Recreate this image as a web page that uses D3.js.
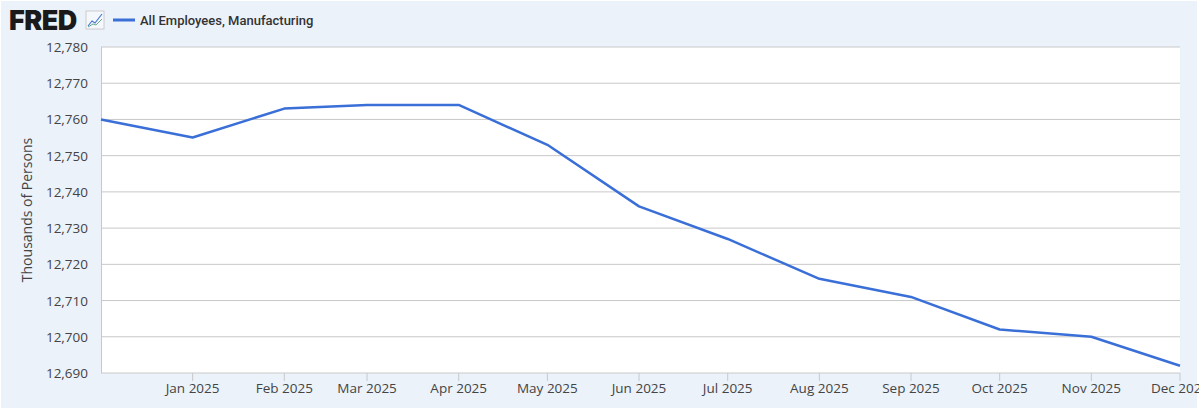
<!DOCTYPE html><html><head><meta charset="utf-8"><script src="https://cdn.jsdelivr.net/npm/d3@7"></script>
<style>body{margin:0;background:#fff}svg{display:block;font-family:"Open Sans",sans-serif}</style></head><body><svg id="c" width="1199" height="409"></svg><script>
const dates=["2024-12-01","2025-01-01","2025-02-01","2025-03-01","2025-04-01","2025-05-01","2025-06-01","2025-07-01","2025-08-01","2025-09-01","2025-10-01","2025-11-01","2025-12-01"];
const values=[12760,12755,12763,12764,12764,12753,12736,12727,12716,12711,12702,12700,12692];
const yTicks=[12690,12700,12710,12720,12730,12740,12750,12760,12770,12780];
const seriesName="All Employees, Manufacturing";
const yLabel="Thousands of Persons";
const svg=d3.select("#c");
svg.append("rect").attr("x",0).attr("y",0).attr("width",1199).attr("height",409).attr("fill","#ffffff");
svg.append("rect").attr("x",1).attr("y",1).attr("width",1196).attr("height",407).attr("fill","#ecf2fa");
const L=101,R=1180,T=47,B=373;
const p=d3.timeParse("%Y-%m-%d");
const x=d3.scaleTime().domain([p(dates[0]),p(dates[dates.length-1])]).range([L,R]);
const y=d3.scaleLinear().domain([12690,12780]).range([B,T]);
svg.append("rect").attr("x",L).attr("y",T).attr("width",R-L).attr("height",B-T).attr("fill","#fff");
const g=svg.append("g");
g.selectAll("line.g").data(yTicks).join("line").attr("x1",L).attr("x2",R).attr("y1",d=>y(d)).attr("y2",d=>y(d)).attr("stroke","#c8c8c8").attr("stroke-width",1);
g.append("line").attr("x1",L+0.5).attr("x2",L+0.5).attr("y1",T).attr("y2",B).attr("stroke","#c8c8c8");
g.selectAll("text.y").data(yTicks).join("text").attr("x",88).attr("y",d=>y(d)+5).attr("text-anchor","end").attr("font-size",13.5).attr("fill","#444").text(d3.format(","));
const xt=dates.slice(1).map(p);
g.selectAll("line.xt").data(xt).join("line").attr("x1",d=>x(d)).attr("x2",d=>x(d)).attr("y1",B).attr("y2",B+8).attr("stroke","#c8c8c8");
g.selectAll("text.x").data(xt).join("text").attr("x",d=>x(d)).attr("y",B+20).attr("text-anchor","middle").attr("font-size",13.5).attr("fill","#444").text(d3.timeFormat("%b %Y"));
svg.append("text").attr("transform","translate(32,210) rotate(-90)").attr("text-anchor","middle").attr("font-size",14).attr("fill","#444").text(yLabel);
const line=d3.line().x((d,i)=>x(p(dates[i]))).y(d=>y(d));
svg.append("path").attr("d",line(values)).attr("fill","none").attr("stroke","#3a6fd8").attr("stroke-width",2.5).attr("stroke-linejoin","round");
svg.append("text").attr("x",9).attr("y",30).attr("font-family","Inter, Roboto, sans-serif").attr("font-weight",900).attr("font-size",27).attr("letter-spacing",-0.5).attr("fill","#1a1a1a").text("FRED");
svg.append("rect").attr("x",86).attr("y",11).attr("width",18).attr("height",18).attr("fill","#f4f7fb").attr("stroke","#bbb").attr("stroke-width",0.7);
svg.append("path").attr("d","M88,26 L92,21 L95,23 L102,14").attr("fill","none").attr("stroke","#4a7bd0").attr("stroke-width",1.2);
svg.append("path").attr("d","M88,27 L93,24 L96,25 L102,19").attr("fill","none").attr("stroke","#6aab8e").attr("stroke-width",1);
svg.append("line").attr("x1",113).attr("x2",135).attr("y1",20).attr("y2",20).attr("stroke","#3a6fd8").attr("stroke-width",3);
svg.append("text").attr("x",140).attr("y",25).attr("font-family","Roboto, sans-serif").attr("font-weight",500).attr("font-size",13).attr("fill","#333").text(seriesName);
</script></body></html>
